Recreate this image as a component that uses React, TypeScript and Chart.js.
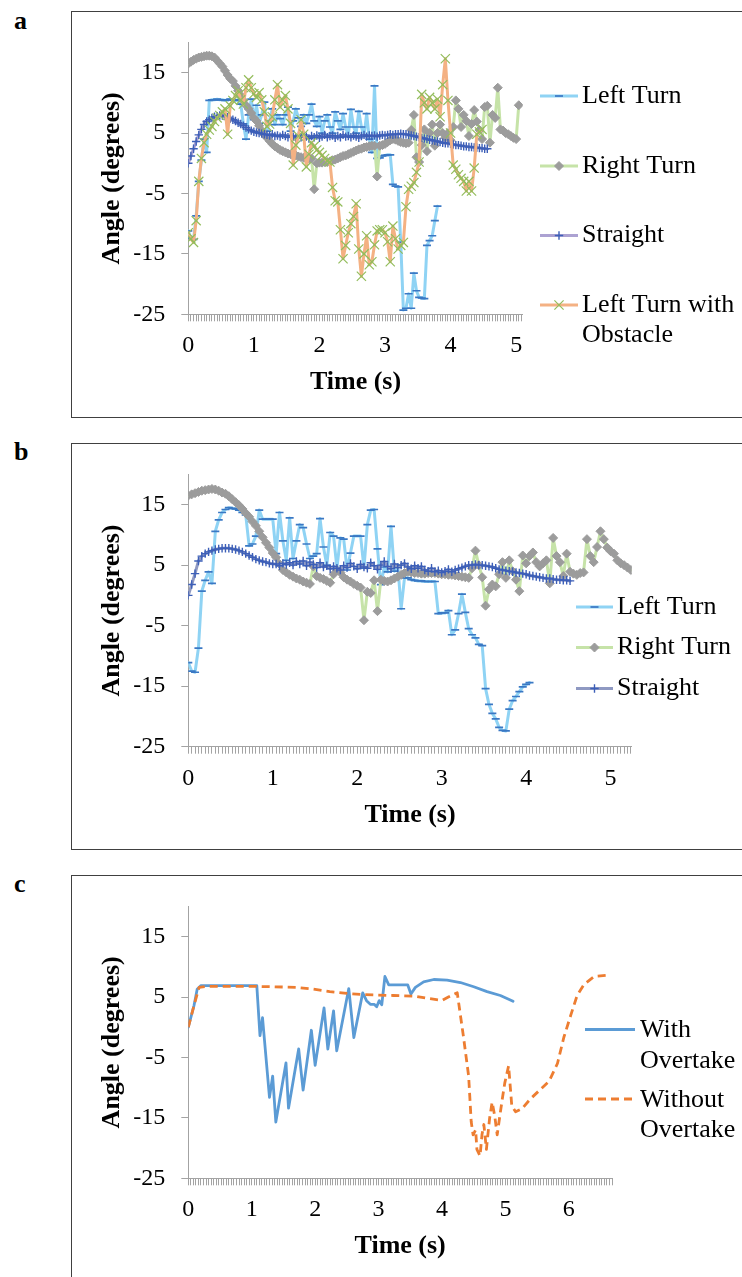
import React, { useEffect, useRef } from "react";
import { Chart, registerables } from "chart.js";

Chart.register(...registerables);

// ---------------- data ----------------
const SAMPLE_STEP = 0.04; // seconds between recorded samples (panels a, b)
const angleTicks = [-25, -15, -5, 5, 15];
const timeTickLabels = [0, 1, 2, 3, 4, 5, 6];

// Panel a
const aLeftTurn = [
  -11.2, -12.4, -12.6, -8.7, -3.0, 0.5, 4.0, 1.8, 10.4, 10.5,
  10.5, 10.6, 10.5, 10.5, 10.4, 10.5, 10.6, 10.5, 10.4, 10.5,
  9.8, 6.5, 4.0, 8.0, 10.6, 7.2, 9.6, 6.6, 8.0, 10.1,
  5.3, 7.0, 9.0, 6.4, 8.0, 7.4, 6.4, 8.0, 9.3, 5.3,
  7.0, 9.0, 7.5, 6.1, 8.0, 6.6, 8.0, 9.8, 7.0, 6.1,
  7.7, 5.0, 7.0, 8.0, 6.0, 5.0, 8.5, 7.0, 5.6, 8.2,
  6.0, 4.5, 8.9, 6.0, 5.0, 8.6, 6.0, 4.5, 8.2, 4.0,
  1.8, 12.8, 0.8, 0.9, 1.2, 1.3, 1.4, 1.4, -3.5, -3.8,
  -3.9, -13.1, -24.3, -24.0, -21.6, -24.0, -18.2, -21.1, -22.2, -22.3,
  -22.4, -13.6, -12.8, -12.0, -9.5, -7.1,
];
const aRightTurn = [
  16.5, 16.8, 17.1, 17.3, 17.5, 17.6, 17.7, 17.8, 17.8, 17.7,
  17.5, 17.0, 16.5, 16.0, 15.3, 14.6, 14.0, 13.6, 12.8, 12.0,
  11.2, 10.4, 9.6, 9.0, 8.3, 7.5, 7.0, 6.2, 5.4, 4.7,
  4.2, 3.7, 3.2, 2.8, 2.5, 2.2, 2.0, 1.8, 1.6, 1.5,
  1.3, 1.3, 1.1, 1.0, 0.9, 0.9, 0.8, 0.8, -4.3, 0.0,
  0.1, 0.1, 0.2, 0.2, 0.3, 0.5, 0.6, 0.8, 1.0, 1.2,
  1.3, 1.5, 1.7, 1.9, 2.1, 2.3, 2.4, 2.6, 2.7, 2.8,
  2.9, 2.9, -2.2, 2.9, 3.0, 3.2, 3.5, 3.8, 4.0, 3.9,
  3.7, 3.5, 3.4, 3.3, 3.4, 5.5, 8.0, 1.0, 0.2, 3.0,
  5.6, 2.0, 5.0, 6.4, 2.9, 5.0, 6.4, 5.0, 4.2, 5.0,
  3.8, 6.0, 10.4, 9.0, 6.0, 8.0, 7.0, 4.5, 6.5, 8.8,
  6.9, 5.5, 4.0, 9.3, 9.5, 3.4, 8.0, 7.5, 12.5, 5.6,
  5.4, 5.0, 4.8, 4.5, 4.2, 4.0, 9.6,
];
const aStraight = [
  0.0, 1.2, 2.4, 3.6, 4.7, 5.6, 6.4, 6.9, 7.2, 7.5,
  7.7, 7.8, 7.9, 7.9, 7.8, 7.6, 7.4, 7.2, 7.0, 6.7,
  6.5, 6.2, 5.9, 5.6, 5.4, 5.2, 5.1, 5.0, 4.9, 4.8,
  4.7, 4.6, 4.8, 4.5, 4.6, 4.4, 4.7, 4.5, 4.3, 4.6,
  4.4, 4.2, 4.5, 4.3, 4.7, 4.4, 4.1, 4.5, 4.3, 4.6,
  4.2, 4.4, 4.7, 4.3, 4.5, 4.6, 4.2, 4.5, 4.3, 4.7,
  4.4, 4.5, 4.3, 4.6, 4.4, 4.2, 4.5, 4.7, 4.4, 4.6,
  4.5, 4.6, 4.4, 4.6, 4.7, 4.6, 4.7, 4.8, 4.7, 4.8,
  4.8, 4.9, 4.8, 4.8, 4.7, 4.6, 4.5, 4.4, 4.3, 4.2,
  4.1, 4.0, 3.9, 3.8, 3.7, 3.6, 3.5, 3.4, 3.3, 3.3,
  3.2, 3.1, 3.0, 3.0, 2.9, 2.8, 2.8, 2.7, 2.7, 2.6,
  2.6, 2.5, 2.5, 2.4, 2.4,
];
const aLeftTurnObstacle = [
  -11.5, -12.5, -13.1, -9.5, -3.0, 0.8, 3.4, 4.8, 5.5, 6.1,
  6.9, 7.5, 7.9, 8.5, 9.0, 4.8, 9.5, 10.4, 11.2, 12.0,
  10.5, 9.8, 12.5, 13.8, 12.5, 11.5, 10.9, 11.7, 10.5, 8.5,
  6.1, 6.5, 7.7, 10.5, 13.0, 9.3, 10.5, 11.2, 9.0, 6.6,
  -0.3, 3.0, 4.5, 7.2, 4.8, -0.6, 1.5, 3.4, 2.8, 2.2,
  1.8, 1.3, 0.8, 0.4, 0.2, -4.0, -6.2, -6.4, -11.0, -15.8,
  -13.6, -11.5, -10.0, -8.8, -6.7, -14.2, -18.7, -15.0, -12.0, -16.8,
  -16.3, -13.5, -11.2, -11.0, -11.0, -11.5, -13.0, -16.3, -10.4, -12.5,
  -14.2, -13.6, -13.1, -7.2, -4.3, -3.8, -3.2, -1.5, 0.2, 11.4,
  10.0, 9.0, 10.9, 10.0, 9.0, 10.6, 7.7, 13.0, 17.3, 10.4,
  5.0, -0.3, -1.0, -1.9, -2.5, -3.0, -4.6, -3.0, -4.6, -0.8,
  4.8, 5.2, 5.6,
];

// Panel b
const bLeftTurn = [
  -11.1, -12.5, -12.7, -8.7, 0.7, 2.5, 3.9, 2.0, 10.6, 12.5,
  13.7, 14.2, 14.5, 14.4, 14.3, 14.1, 13.7, 13.3, 8.2, 8.5,
  9.8, 14.1, 12.6, 12.6, 12.6, 12.6, 6.9, 13.7, 9.0, 5.8,
  12.8, 6.1, 9.0, 11.7, 11.2, 8.5, 6.1, 6.5, 6.9, 12.7,
  8.0, 5.0, 10.4, 9.8, 4.5, 9.5, 9.3, 4.2, 7.0, 9.8,
  9.8, 9.8, 4.5, 11.7, 14.1, 14.2, 7.7, 1.8, 4.7, 3.9,
  11.4, 4.0, 5.0, -2.2, 2.9, 2.9, 2.6, 2.5, 2.4, 2.4,
  2.3, 2.3, 2.3, 2.3, -3.0, -2.9, -2.9, -2.5, -6.5, -5.7,
  -3.0, 0.2, -2.8, -5.5, -6.5, -7.0, -8.1, -8.3, -15.4, -18.0,
  -19.5, -20.4, -21.8, -22.3, -22.4, -18.8, -17.4, -16.7, -15.9, -15.1,
  -14.7, -14.4,
];
const bRightTurn = [
  16.5, 16.7, 16.9, 17.1, 17.3, 17.4, 17.5, 17.6, 17.5, 17.3,
  17.0, 16.8, 16.4, 15.9, 15.4, 14.9, 14.3, 13.6, 13.0, 12.2,
  11.5, 10.6, 9.6, 8.7, 7.9, 7.0, 6.3, 5.2, 4.2, 3.8,
  3.4, 3.1, 2.8, 2.6, 2.3, 2.1, 1.9, 4.8, 3.2, 2.9,
  2.7, 2.4, 2.1, 3.5, 4.2, 3.8, 3.0, 2.6, 2.3, 1.9,
  1.6, 1.3, -4.1, 0.6, 0.4, 2.5, -2.6, 2.6, 2.4, 2.3,
  2.5, 2.8, 3.1, 3.4, 3.7, 3.9, 3.8, 3.7, 3.7, 3.6,
  3.6, 3.7, 3.7, 3.7, 3.6, 3.5, 3.5, 3.4, 3.4, 3.3,
  3.2, 3.1, 3.0, 2.9, 4.5, 7.4, 5.0, 3.0, -1.7, 1.0,
  1.8, 1.5, 3.5, 5.5, 2.9, 5.8, 4.0, 2.6, 0.7, 6.6,
  5.3, 6.5, 7.1, 5.5, 4.8, 5.3, 5.8, 2.0, 9.5, 6.5,
  5.5, 3.2, 6.9, 3.9, 3.6, 3.4, 3.7, 3.8, 9.3, 6.5,
  5.5, 8.0, 10.6, 9.3, 7.9, 7.3, 6.9, 5.8, 5.3, 5.0,
  4.6, 4.2,
];
const bStraight = [
  0.0, 1.8, 3.6, 5.7, 6.5, 6.9, 7.2, 7.4, 7.6, 7.7,
  7.8, 7.8, 7.8, 7.7, 7.6, 7.4, 7.2, 6.9, 6.6, 6.3,
  6.0, 5.8, 5.6, 5.5, 5.3, 5.2, 5.2, 4.9, 5.3, 5.1,
  5.4, 5.0, 5.6, 5.2, 5.7, 4.9, 5.5, 5.1, 4.6, 5.4,
  4.7, 4.9, 4.4, 4.8, 4.5, 4.2, 4.9, 4.6, 5.3, 4.8,
  4.4, 5.1, 4.7, 4.5, 5.4, 4.9, 4.3, 5.0, 5.6, 4.8,
  4.4, 5.2, 4.6, 5.0, 5.3, 4.7, 4.4, 4.9, 4.5, 4.8,
  4.2, 4.0, 4.5, 3.9, 4.1, 3.8, 4.0, 4.3, 3.9, 4.2,
  4.4, 4.6, 4.8, 5.0, 5.0, 5.1, 5.0, 5.0, 4.9, 4.8,
  4.7, 4.5, 4.3, 4.2, 4.1, 4.0, 3.9, 3.8, 3.7, 3.6,
  3.5, 3.3, 3.2, 3.1, 3.0, 2.9, 2.8, 2.8, 2.7, 2.6,
  2.6, 2.5, 2.5, 2.4,
];

// Panel c
const cWithTime = [
  0, 0.09, 0.14, 0.2, 1.08, 1.13, 1.17, 1.28, 1.33, 1.38,
  1.54, 1.58, 1.74, 1.81, 1.94, 2.0, 2.14, 2.2, 2.29, 2.34,
  2.53, 2.61, 2.75, 2.81, 2.87, 2.93, 2.97, 3.01, 3.05, 3.1,
  3.16, 3.46, 3.51, 3.58, 3.71, 3.87, 4.08, 4.29, 4.5, 4.71,
  4.92, 5.12,
];
const cWithAngle = [
  0, 3.6, 6.3, 6.9, 6.9, -1.4, 1.6, -11.6, -8.1, -15.7,
  -5.9, -13.4, -3.6, -10.4, -0.5, -6.3, 3.2, -3.6, 2.7, -3.9,
  6.4, -1.7, 5.7, 4.4, 3.8, 3.8, 3.4, 4.4, 3.7, 8.4,
  7.0, 7.0, 5.5, 6.6, 7.5, 7.9, 7.8, 7.4, 6.7, 5.9,
  5.25, 4.3,
];
const cWithoutTime = [
  0, 0.09, 0.17, 0.27, 1.08, 1.34, 1.7, 1.97, 2.23, 2.5,
  2.76, 3.23, 3.55, 3.76, 4.0, 4.1, 4.24, 4.34, 4.42, 4.46,
  4.49, 4.53, 4.55, 4.6, 4.63, 4.66, 4.7, 4.75, 4.79, 4.83,
  4.87, 4.91, 4.95, 4.99, 5.05, 5.1, 5.16, 5.26, 5.39, 5.55,
  5.69, 5.82, 5.92, 6.03, 6.13, 6.24, 6.4, 6.61,
];
const cWithoutAngle = [
  0, 3.6, 6.6, 6.75, 6.75, 6.7, 6.6, 6.3, 5.9, 5.6,
  5.4, 5.25, 5.15, 4.8, 4.45, 5.0, 5.7, -1.7, -8.1, -15.6,
  -17.8, -17.0, -20.2, -21.3, -17.8, -16.1, -20.2, -15.1, -12.4, -14.6,
  -17.8, -14.8, -11.9, -9.2, -6.4, -13.0, -14.0, -13.5, -11.9, -10.3,
  -8.9, -6.0, -1.7, 2.0, 5.25, 7.1, 8.4, 8.6,
];

// ---------------- styling ----------------
const FONT = '"Liberation Serif", "Times New Roman", serif';
const AXIS_GRAY = "#a3a3a3";
const X_AXIS_H = 95;

type MarkerStyle = "line" | "cross" | "crossRot" | "rectRot" | false;

interface SeriesStyle {
  line: string;
  width: number;
  dash?: number[];
  marker: MarkerStyle;
  r: number;
  mStroke: string;
  mFill: string;
  mWidth: number;
}

const stLeft: SeriesStyle = { line: "#8fd3f4", width: 3, marker: "line", r: 4, mStroke: "#3a78c4", mFill: "#3a78c4", mWidth: 1.7 };
const stRight: SeriesStyle = { line: "#c6e3a8", width: 3, marker: "rectRot", r: 4.5, mStroke: "#9c9c9c", mFill: "#9c9c9c", mWidth: 1 };
const stStraightA: SeriesStyle = { line: "#aca2d2", width: 3, marker: "cross", r: 4.2, mStroke: "#3c5fb8", mFill: "#3c5fb8", mWidth: 1.4 };
const stStraightB: SeriesStyle = { line: "#8f99c2", width: 3, marker: "cross", r: 4.2, mStroke: "#3c5fb8", mFill: "#3c5fb8", mWidth: 1.4 };
const stObstacle: SeriesStyle = { line: "#f4b183", width: 3, marker: "crossRot", r: 6.5, mStroke: "#93bd5c", mFill: "#93bd5c", mWidth: 1.2 };
const stWith: SeriesStyle = { line: "#5b9bd5", width: 2.8, marker: false, r: 0, mStroke: "#5b9bd5", mFill: "#5b9bd5", mWidth: 0 };
const stWithout: SeriesStyle = { line: "#ed7d31", width: 2.8, dash: [8, 5], marker: false, r: 0, mStroke: "#ed7d31", mFill: "#ed7d31", mWidth: 0 };

function sampled(values: number[]) {
  return values.map((v, i) => ({ x: Math.round(i * SAMPLE_STEP * 100) / 100, y: v }));
}
function paired(times: number[], values: number[]) {
  return times.map((t, i) => ({ x: t, y: values[i] }));
}

function makeDataset(label: string, data: { x: number; y: number }[], st: SeriesStyle, order: number) {
  return {
    label,
    data,
    order,
    borderColor: st.line,
    borderWidth: st.width,
    borderDash: st.dash || [],
    borderJoinStyle: "round",
    borderCapStyle: st.dash ? "butt" : "round",
    tension: 0,
    fill: false,
    pointStyle: st.marker || "circle",
    pointRadius: st.marker ? st.r : 0,
    pointHoverRadius: st.marker ? st.r : 0,
    pointBorderColor: st.mStroke,
    pointBackgroundColor: st.mFill,
    pointBorderWidth: st.mWidth,
    _style: st,
  };
}

function drawMarker(ctx: CanvasRenderingContext2D, st: SeriesStyle, x: number, y: number) {
  if (!st.marker) return;
  const r = st.r;
  ctx.save();
  ctx.lineWidth = st.mWidth;
  ctx.strokeStyle = st.mStroke;
  ctx.fillStyle = st.mFill;
  ctx.beginPath();
  if (st.marker === "line") {
    ctx.moveTo(x - r, y);
    ctx.lineTo(x + r, y);
    ctx.stroke();
  } else if (st.marker === "cross") {
    ctx.moveTo(x - r, y);
    ctx.lineTo(x + r, y);
    ctx.moveTo(x, y - r);
    ctx.lineTo(x, y + r);
    ctx.stroke();
  } else if (st.marker === "crossRot") {
    const d = r * Math.SQRT1_2;
    ctx.moveTo(x - d, y - d);
    ctx.lineTo(x + d, y + d);
    ctx.moveTo(x + d, y - d);
    ctx.lineTo(x - d, y + d);
    ctx.stroke();
  } else if (st.marker === "rectRot") {
    ctx.moveTo(x - r, y);
    ctx.lineTo(x, y - r);
    ctx.lineTo(x + r, y);
    ctx.lineTo(x, y + r);
    ctx.closePath();
    ctx.fill();
    ctx.stroke();
  }
  ctx.restore();
}

interface LegendItem {
  dataset: number;
  x1: number;
  x2: number;
  y: number;
  tx: number;
  ty: number;
  lh: number;
  text: string[];
}

const sideLegendPlugin = {
  id: "sideLegend",
  afterDraw(chart: any, _args: any, opts: any) {
    const ctx: CanvasRenderingContext2D = chart.ctx;
    const items: LegendItem[] = opts.items || [];
    const ox = opts.ox || 0;
    const oy = opts.oy || 0;
    ctx.save();
    for (const it of items) {
      const st: SeriesStyle = chart.data.datasets[it.dataset]._style;
      ctx.beginPath();
      ctx.strokeStyle = st.line;
      ctx.lineWidth = st.width;
      ctx.lineCap = "butt";
      ctx.setLineDash(st.dash || []);
      ctx.moveTo(it.x1 - ox, it.y - oy);
      ctx.lineTo(it.x2 - ox, it.y - oy);
      ctx.stroke();
      ctx.setLineDash([]);
      drawMarker(ctx, st, (it.x1 + it.x2) / 2 - ox, it.y - oy);
      ctx.fillStyle = "#000";
      ctx.font = `26px ${FONT}`;
      ctx.textAlign = "left";
      ctx.textBaseline = "middle";
      it.text.forEach((line, k) => ctx.fillText(line, it.tx - ox, it.ty - oy + k * it.lh));
    }
    ctx.restore();
  },
};

interface PanelSpec {
  label: string;
  labelTop: number;
  boxTop: number;
  boxHeight: number;
  canvas: { left: number; top: number; width: number; height: number };
  plot: { left: number; right: number; top: number; bottom: number };
  xMax: number;
  datasets: any[];
  legend: LegendItem[];
}

const PANELS: PanelSpec[] = [
  {
    label: "a",
    labelTop: 8,
    boxTop: 11,
    boxHeight: 407,
    canvas: { left: 72, top: 12, width: 670, height: 405 },
    plot: { left: 188.3, right: 522.7, top: 33.3, bottom: 314.3 },
    xMax: 5.1,
    datasets: [
      makeDataset("Left Turn", sampled(aLeftTurn), stLeft, 3),
      makeDataset("Right Turn", sampled(aRightTurn), stRight, 2),
      makeDataset("Straight", sampled(aStraight), stStraightA, 1),
      makeDataset("Left Turn with Obstacle", sampled(aLeftTurnObstacle), stObstacle, 0),
    ],
    legend: [
      { dataset: 0, x1: 540, x2: 578, y: 96, tx: 582, ty: 96, lh: 30, text: ["Left Turn"] },
      { dataset: 1, x1: 540, x2: 578, y: 166, tx: 582, ty: 166, lh: 30, text: ["Right Turn"] },
      { dataset: 2, x1: 540, x2: 578, y: 235.5, tx: 582, ty: 235.5, lh: 30, text: ["Straight"] },
      { dataset: 3, x1: 540, x2: 578, y: 305, tx: 582, ty: 305, lh: 30, text: ["Left Turn with", "Obstacle"] },
    ],
  },
  {
    label: "b",
    labelTop: 439,
    boxTop: 443,
    boxHeight: 407,
    canvas: { left: 72, top: 444, width: 670, height: 405 },
    plot: { left: 188.3, right: 631.7, top: 467, bottom: 746.7 },
    xMax: 5.25,
    datasets: [
      makeDataset("Left Turn", sampled(bLeftTurn), stLeft, 2),
      makeDataset("Right Turn", sampled(bRightTurn), stRight, 1),
      makeDataset("Straight", sampled(bStraight), stStraightB, 0),
    ],
    legend: [
      { dataset: 0, x1: 576, x2: 613, y: 607, tx: 617, ty: 607, lh: 30, text: ["Left Turn"] },
      { dataset: 1, x1: 576, x2: 613, y: 647.5, tx: 617, ty: 647.5, lh: 30, text: ["Right Turn"] },
      { dataset: 2, x1: 576, x2: 613, y: 688.5, tx: 617, ty: 688.5, lh: 30, text: ["Straight"] },
    ],
  },
  {
    label: "c",
    labelTop: 871,
    boxTop: 875,
    boxHeight: 420,
    canvas: { left: 72, top: 876, width: 670, height: 400 },
    plot: { left: 188.3, right: 612, top: 898.2, bottom: 1178.3 },
    xMax: 6.68,
    datasets: [
      makeDataset("With Overtake", paired(cWithTime, cWithAngle), stWith, 1),
      makeDataset("Without Overtake", paired(cWithoutTime, cWithoutAngle), stWithout, 0),
    ],
    legend: [
      { dataset: 0, x1: 585, x2: 635, y: 1029.5, tx: 640, ty: 1030, lh: 31, text: ["With", "Overtake"] },
      { dataset: 1, x1: 585, x2: 635, y: 1099, tx: 640, ty: 1100, lh: 30, text: ["Without", "Overtake"] },
    ],
  },
];

function buildConfig(p: PanelSpec): any {
  const c = p.canvas;
  const gridOpts = {
    display: true,
    drawOnChartArea: false,
    drawTicks: true,
    tickLength: 7,
    color: AXIS_GRAY,
    lineWidth: 1,
  };
  const borderOpts = { display: true, color: AXIS_GRAY, width: 1 };
  return {
    type: "line",
    data: { datasets: p.datasets },
    options: {
      animation: false,
      responsive: false,
      maintainAspectRatio: false,
      events: [],
      layout: {
        padding: {
          left: 0,
          top: p.plot.top - c.top,
          right: c.left + c.width - p.plot.right,
          bottom: c.top + c.height - (p.plot.bottom + X_AXIS_H),
        },
      },
      plugins: {
        legend: { display: false },
        tooltip: { enabled: false },
        sideLegend: { items: p.legend, ox: c.left, oy: c.top },
      },
      scales: {
        x: {
          type: "linear",
          min: 0,
          max: p.xMax,
          afterBuildTicks: (axis: any) => {
            const n = Math.floor(p.xMax / SAMPLE_STEP + 1e-6);
            axis.ticks = Array.from({ length: n + 1 }, (_, k) => ({
              value: Math.round(k * SAMPLE_STEP * 100) / 100,
            }));
          },
          afterFit: (axis: any) => {
            axis.height = X_AXIS_H;
          },
          ticks: {
            autoSkip: false,
            maxRotation: 0,
            minRotation: 0,
            padding: 10.3,
            color: "#000",
            font: { family: FONT, size: 24 },
            callback: (value: any) => {
              const v = Number(value);
              const r = Math.round(v);
              return Math.abs(v - r) < 1e-6 && timeTickLabels.includes(r) ? String(r) : "";
            },
          },
          grid: gridOpts,
          border: borderOpts,
          title: {
            display: true,
            text: "Time (s)",
            color: "#000",
            font: { family: FONT, size: 26, weight: "bold" },
            padding: { top: 0, bottom: 11.2 },
          },
        },
        y: {
          type: "linear",
          min: -25,
          max: 20,
          afterBuildTicks: (axis: any) => {
            axis.ticks = angleTicks.map((v) => ({ value: v }));
          },
          afterFit: (axis: any) => {
            axis.width = p.plot.left - c.left;
          },
          ticks: {
            padding: 16,
            color: "#000",
            font: { family: FONT, size: 24 },
            callback: (value: any) => String(value),
          },
          grid: gridOpts,
          border: borderOpts,
          title: {
            display: true,
            text: "Angle (degrees)",
            color: "#000",
            font: { family: FONT, size: 26, weight: "bold" },
            padding: { top: 24.4, bottom: 0 },
          },
        },
      },
    },
    plugins: [sideLegendPlugin],
  };
}

function Panel({ spec }: { spec: PanelSpec }) {
  const ref = useRef<HTMLCanvasElement | null>(null);
  useEffect(() => {
    if (!ref.current) return;
    const chart = new Chart(ref.current, buildConfig(spec));
    return () => chart.destroy();
  }, [spec]);
  const c = spec.canvas;
  return (
    <>
      <div
        style={{
          position: "absolute",
          left: 71,
          top: spec.boxTop,
          width: 760,
          height: spec.boxHeight,
          border: "1px solid #404040",
          boxSizing: "border-box",
        }}
      />
      <div
        style={{
          position: "absolute",
          left: 14,
          top: spec.labelTop,
          fontFamily: FONT,
          fontWeight: "bold",
          fontSize: 26,
          lineHeight: "26px",
          color: "#000",
        }}
      >
        {spec.label}
      </div>
      <canvas
        ref={ref}
        width={c.width}
        height={c.height}
        style={{ position: "absolute", left: c.left, top: c.top, width: c.width, height: c.height }}
      />
    </>
  );
}

export default function App() {
  return (
    <div
      style={{
        position: "absolute",
        left: 0,
        top: 0,
        width: 742,
        height: 1277,
        overflow: "hidden",
        background: "#fff",
      }}
    >
      {PANELS.map((p) => (
        <Panel key={p.label} spec={p} />
      ))}
    </div>
  );
}
